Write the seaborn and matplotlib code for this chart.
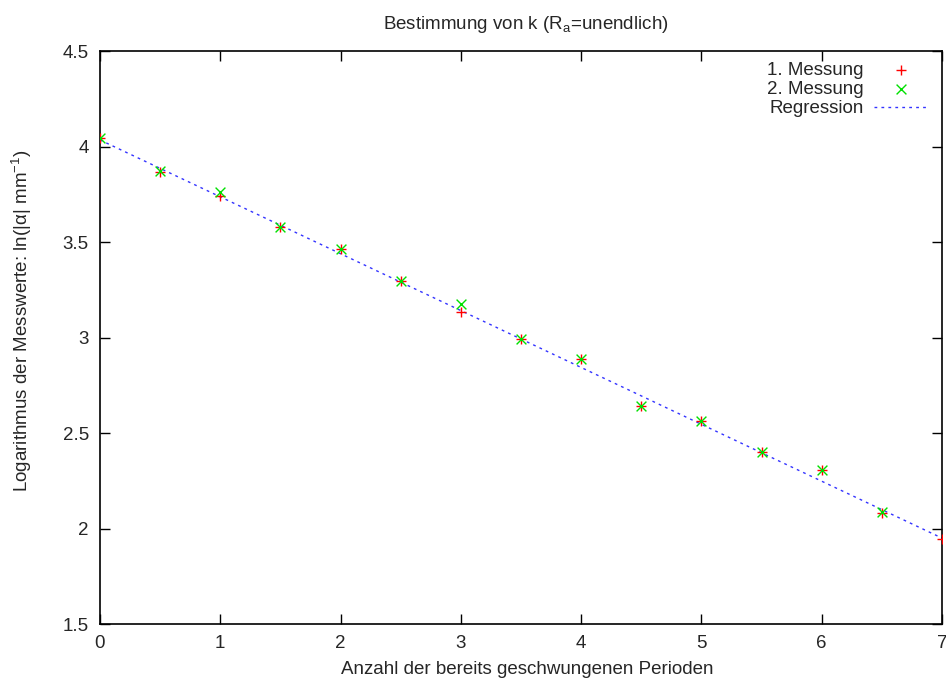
import pandas as pd
import seaborn as sns
import matplotlib
matplotlib.use("Agg")
import matplotlib.pyplot as plt
import matplotlib.ticker as ticker

# values
perioden_1 = [0, 0.5, 1, 1.5, 2, 2.5, 3, 3.5, 4, 4.5, 5, 5.5, 6, 6.5, 7]
messung_1 = [4.045, 3.868, 3.740, 3.580, 3.466, 3.294, 3.134, 2.993, 2.890,
             2.640, 2.564, 2.400, 2.305, 2.080, 1.946]
perioden_2 = [0, 0.5, 1, 1.5, 2, 2.5, 3, 3.5, 4, 4.5, 5, 5.5, 6, 6.5]
messung_2 = [4.045, 3.870, 3.760, 3.580, 3.466, 3.294, 3.177, 2.993, 2.890,
             2.640, 2.564, 2.400, 2.305, 2.085]
regression_x = [0, 7]
regression_y = [4.035, 1.950]

OUT = "out.png"
FS = 13.5


def main():
    sns.set_theme(style="white")
    plt.rcParams["font.family"] = ["Liberation Sans", "DejaVu Sans"]
    plt.rcParams["mathtext.fontset"] = "custom"
    plt.rcParams["mathtext.rm"] = "Liberation Sans"

    fig = plt.figure(figsize=(9.46, 6.82), dpi=100)
    ax = fig.add_axes([0.1057, 0.085, 0.8901, 0.84])

    df1 = pd.DataFrame({"x": perioden_1, "y": messung_1})
    df2 = pd.DataFrame({"x": perioden_2, "y": messung_2})
    reg = pd.DataFrame({"x": regression_x, "y": regression_y})

    sns.scatterplot(data=df1, x="x", y="y", marker="+", s=60, color="#ff0000",
                    linewidth=1.0, ax=ax, label="1. Messung", zorder=3)
    sns.scatterplot(data=df2, x="x", y="y", marker="x", s=50, color="#00e000",
                    linewidth=1.0, ax=ax, label="2. Messung", zorder=4)
    sns.lineplot(data=reg, x="x", y="y", color="#3333ff", linestyle=(0, (2, 3)),
                 linewidth=1.0, ax=ax, label="Regression", zorder=2)

    ax.set_xlim(0, 7)
    ax.set_ylim(1.5, 4.5)
    ax.xaxis.set_major_locator(ticker.MultipleLocator(1))
    ax.yaxis.set_major_locator(ticker.MultipleLocator(0.5))
    ax.yaxis.set_major_formatter(ticker.FormatStrFormatter("%g"))
    ax.tick_params(direction="in", length=7, width=1, labelsize=FS, color="black",
                   top=True, right=True, bottom=True, left=True, pad=8)
    for sp in ax.spines.values():
        sp.set_color("black")
        sp.set_linewidth(1.2)

    ax.set_xlabel("Anzahl der bereits geschwungenen Perioden", fontsize=FS, labelpad=8)
    ax.xaxis.set_label_coords(0.507, -0.065)
    ax.set_ylabel(r"Logarithmus der Messwerte: ln(|α| mm$^{\mathregular{-1}}$)",
                  fontsize=FS)
    ax.yaxis.set_label_coords(-0.078, 0.53)
    ax.set_title(r"Bestimmung von k (R$_{\mathregular{a}}$=unendlich)", fontsize=FS,
                 pad=16, x=0.506)

    ax.legend(loc="upper right", frameon=False, markerfirst=False, fontsize=FS,
              handlelength=2.8, labelspacing=0.1, borderaxespad=0.1,
              handletextpad=0.55, bbox_to_anchor=(0.993, 0.997))

    fig.savefig(OUT, dpi=100)


if __name__ == '__main__':
    main()
